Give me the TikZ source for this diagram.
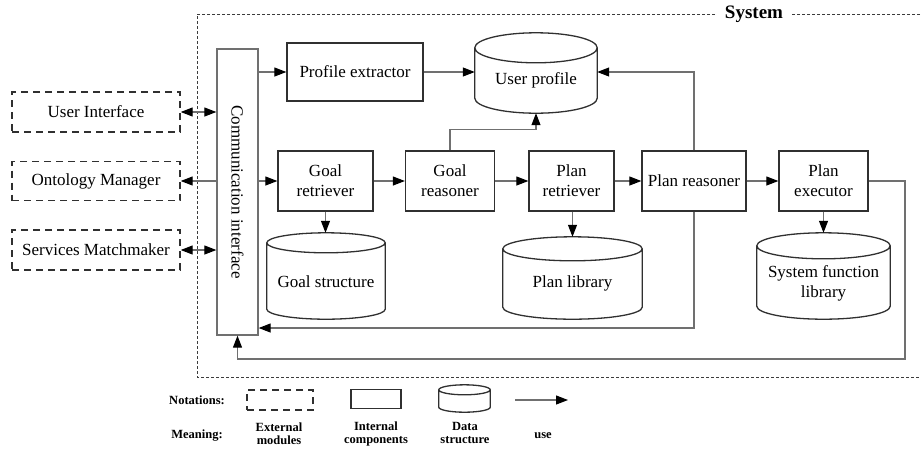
\documentclass[tikz,border=0pt]{standalone}
\usepackage{fontspec}
\setmainfont{Liberation Serif}
\usetikzlibrary{arrows.meta,calc}

\definecolor{boxc}{HTML}{303030}
\definecolor{linec}{HTML}{707070}
\definecolor{sysc}{HTML}{3c3c3c}

\tikzset{
  x=1pt, y=-1pt,
  lbl/.style={font=\fontsize{17}{20}\selectfont, align=center, inner sep=1pt},
  comp/.style={lbl, draw=boxc, line width=1.3pt},
  extmod/.style={lbl, draw=boxc, line width=1.4pt, dash pattern=on 7pt off 5pt},
  store/.style={lbl, inner sep=0pt},
  cylline/.style={draw=boxc, line width=1.3pt},
  tip/.tip={Triangle[length=12pt, width=9pt, color=black]},
  usearrow/.style={draw=linec, line width=1.1pt, -tip},
  twoway/.style={draw=linec, line width=1.1pt, tip-tip},
  legend/.style={font=\bfseries\fontsize{12.5}{13}\selectfont, align=center, inner sep=0pt},
}

% cylinder outline around the rectangle of a node; #2 = half height of the end ellipses (pt)
\newcommand\drawcyl[2]{%
  \draw[cylline] let \p1=(#1.north west), \p2=(#1.south east), \n1={(\x2-\x1)/2} in
    ($(#1.north)+(0pt,-#2pt)$) ellipse [x radius=\n1, y radius=#2pt]
    ({\x1},{\y1-#2pt}) -- ({\x1},{\y2+#2pt})
    arc [start angle=180, end angle=360, x radius=\n1, y radius=#2pt]
    -- ({\x2},{\y1-#2pt});
}

\begin{document}
\begin{tikzpicture}
\useasboundingbox (0,0) rectangle (921,448);

% system boundary
\draw[sysc, line width=0.9pt, dash pattern=on 3pt off 2pt]
  (925,14) -- (197,14) -- (197,377) -- (925,377);
\node[font=\bfseries\fontsize{19}{22}\selectfont, fill=white, inner xsep=8pt, inner ysep=1pt] (sys) at (754,14) {System};

% external modules
\node[extmod, minimum width=168, minimum height=40] (ui) at (96,112) {User Interface};
\node[extmod, minimum width=168, minimum height=39] (om) at (96,181) {Ontology Manager};
\node[extmod, minimum width=168, minimum height=40] (sm) at (96,250) {Services Matchmaker};

% communication interface
\node[lbl, draw=linec, line width=1.3pt, minimum width=41, minimum height=286] (comm) at (237.5,192) {};
\node[lbl, rotate=-90] (comm-t) at (237.5,192) {Communication interface};

% internal components
\node[comp, minimum width=136, minimum height=58] (pe) at (355,72) {Profile extractor};
\node[comp, minimum width=95, minimum height=60] (gr) at (325.5,181) {Goal\\retriever};
\node[comp, minimum width=89, minimum height=60] (gre) at (450,181) {Goal\\reasoner};
\node[comp, minimum width=85, minimum height=60] (prt) at (571.5,181) {Plan\\retriever};
\node[comp, minimum width=104, minimum height=60] (prs) at (694,181) {Plan reasoner};
\node[comp, minimum width=89, minimum height=60] (pex) at (823.5,181) {Plan\\executor};

% data structures
\node[store, minimum width=122, minimum height=80] (up) at (536,73) {};
\drawcyl{up}{15}
\node[lbl] (up-t) at (536,80) {User profile};
\node[store, minimum width=118, minimum height=86] (gs) at (326,276) {};
\drawcyl{gs}{10}
\node[lbl] (gs-t) at (326,282) {Goal structure};
\node[store, minimum width=139, minimum height=82] (pl) at (572.5,278) {};
\drawcyl{pl}{12}
\node[lbl] (pl-t) at (572.5,283) {Plan library};
\node[store, minimum width=133, minimum height=86] (sfl) at (823.5,276) {};
\drawcyl{sfl}{13}
\node[lbl] (sfl-t) at (823.5,283) {System function\\library};

% links to external modules
\draw[twoway] (ui.east) -- (ui.east -| comm.west);
\draw[usearrow] (om.east -| comm.west) -- (om.east);
\draw[twoway] (sm.east) -- (sm.east -| comm.west);

% profile handling
\draw[usearrow] (pe.west -| comm.east) -- (pe.west);
\draw[usearrow] (pe.east) -- (pe.east -| up.west);
\draw[usearrow] (prs.north) -- (prs.north |- pe.east) -- (pe.east -| up.east);
\draw[usearrow] (gre.north) -- ++(0,-21) -| (up.south);

% main chain
\draw[usearrow] (gr.west -| comm.east) -- (gr.west);
\draw[usearrow] (gr) -- (gre);
\draw[usearrow] (gre) -- (prt);
\draw[usearrow] (prt) -- (prs);
\draw[usearrow] (prs) -- (pex);

% data access
\draw[usearrow] (gr.south) -- (gr.south |- gs.north);
\draw[usearrow] (prt.south -| pl.north) -- (pl.north);
\draw[usearrow] (pex.south) -- (pex.south |- sfl.north);

% feedback to the communication interface
\coordinate (fb1) at (694,328);
\draw[usearrow] (prs.south) -- (fb1) -- (fb1 -| comm.east);
\coordinate (fb2) at (905,359);
\draw[usearrow] (pex.east) -| (fb2) -| (comm.south);

% legend
\node[legend] (not) at (197,400) {Notations:};
\node[legend] (mean) at (197,436) {Meaning:};
\node[draw=boxc, line width=1.4pt, dash pattern=on 7pt off 5pt, minimum width=66, minimum height=20, inner sep=0pt] (lgext) at (280,400) {};
\node[draw=boxc, line width=1.2pt, minimum width=50, minimum height=19, inner sep=0pt] (lgint) at (376,399) {};
\node[store, minimum width=51, minimum height=27] (lgcyl) at (464.5,398.5) {};
\drawcyl{lgcyl}{5}
\coordinate (lga) at (515,400);
\coordinate (lgb) at (568,400);
\draw[usearrow] (lga) -- (lgb);
\node[legend] (m1) at (279,434) {External\\modules};
\node[legend] (m2) at (376,434) {Internal\\components};
\node[legend] (m3) at (465,433) {Data\\structure};
\node[legend] (m4) at (543,436) {use};
\end{tikzpicture}
\end{document}
